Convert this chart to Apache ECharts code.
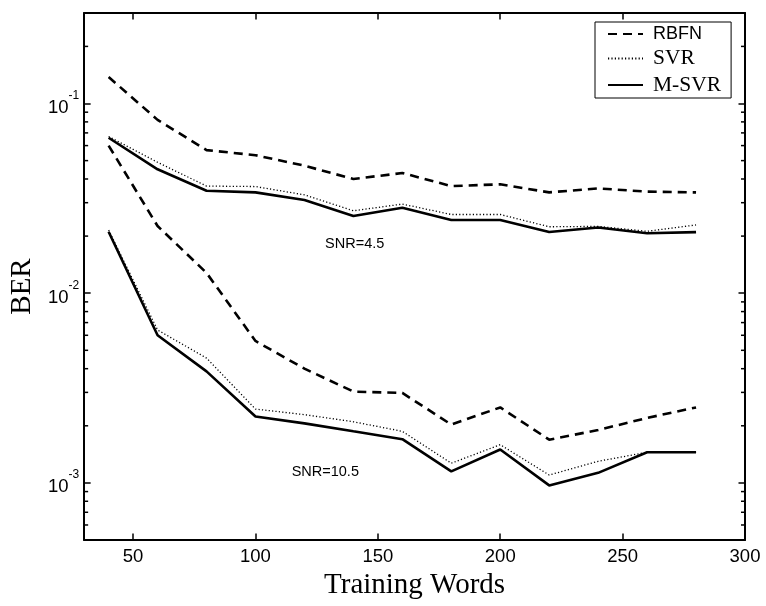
<!DOCTYPE html>
<html><head><meta charset="utf-8">
<script src="https://cdn.jsdelivr.net/npm/echarts@6/dist/echarts.min.js"></script>
<style>html,body{margin:0;padding:0;background:#fff}#c{width:766px;height:606px}</style>
</head><body><div id="c"></div>
<script>
// ---- data ----
const words = [40, 60, 80, 100, 120, 140, 160, 180, 200, 220, 240, 260, 280];
const rbfnSnr45 = [0.138, 0.082, 0.0568, 0.0534, 0.047, 0.040, 0.043, 0.0367, 0.0375, 0.034, 0.0357, 0.0343, 0.034];
const svrSnr45  = [0.067, 0.049, 0.0367, 0.0365, 0.033, 0.0272, 0.0295, 0.026, 0.026, 0.0224, 0.0225, 0.0212, 0.0229];
const msvrSnr45 = [0.066, 0.045, 0.0347, 0.034, 0.031, 0.0255, 0.0282, 0.0243, 0.0243, 0.021, 0.0222, 0.0207, 0.021];
const rbfnSnr105 = [0.060, 0.0226, 0.0128, 0.0056, 0.0040, 0.00303, 0.00298, 0.00203, 0.0025, 0.00169, 0.0019, 0.0022, 0.0025];
const svrSnr105  = [0.0215, 0.0064, 0.00455, 0.00245, 0.00229, 0.0021, 0.00187, 0.00127, 0.00159, 0.0011, 0.0013, 0.00145, 0.00145];
const msvrSnr105 = [0.0211, 0.0060, 0.00387, 0.00224, 0.00206, 0.00187, 0.0017, 0.00115, 0.0015, 0.00097, 0.00113, 0.00145, 0.00145];
const seriesNames = ['RBFN', 'SVR', 'M-SVR'];
const xTickLabels = [50, 100, 150, 200, 250, 300];
const yMinorTicks = [6e-4, 7e-4, 8e-4, 9e-4,
  2e-3, 3e-3, 4e-3, 5e-3, 6e-3, 7e-3, 8e-3, 9e-3,
  2e-2, 3e-2, 4e-2, 5e-2, 6e-2, 7e-2, 8e-2, 9e-2, 0.2];
const xMin = 30, xMax = 300, yMin = 5e-4, yMax = 0.3;
const annotations = ['SNR=4.5', 'SNR=10.5'];

// ---- chart ----
const chart = echarts.init(document.getElementById('c'), null, {renderer: 'canvas'});
const pair = (ys) => words.map((w, i) => [w, ys[i]]);
const sans = 'Liberation Sans, Arial, Helvetica, sans-serif';
const serif = 'Liberation Serif, Times New Roman, serif';
const styles = {
  'RBFN': {type: [9, 6], width: 2.6},
  'SVR': {type: [1.2, 2.2], width: 1.3},
  'M-SVR': {type: 'solid', width: 2.6}
};
function lineSeries(name, ys) {
  return {
    name, type: 'line', data: pair(ys), symbol: 'none', showSymbol: false,
    lineStyle: {color: '#000', width: styles[name].width, type: styles[name].type},
    itemStyle: {color: '#000'}, animation: false, silent: true
  };
}
const axisCommonY = {
  type: 'log', logBase: 10, min: yMin, max: yMax,
  axisLine: {show: true, lineStyle: {color: '#000', width: 2}},
  axisTick: {show: true, inside: true, length: 6.5, lineStyle: {color: '#000', width: 1.5}},
  splitLine: {show: false}
};
const axisCommonX = {
  type: 'value', min: xMin, max: xMax, splitNumber: 5,
  axisLine: {show: true, onZero: false, lineStyle: {color: '#000', width: 2}},
  axisTick: {show: true, inside: true, length: 6.5, lineStyle: {color: '#000', width: 1.5}},
  splitLine: {show: false}
};
const option = {
  backgroundColor: '#fff',
  animation: false,
  grid: {left: 78, right: 21, top: 13, bottom: 66, containLabel: false},
  xAxis: [
    Object.assign({}, axisCommonX, {
      position: 'bottom',
      name: 'Training Words', nameLocation: 'middle', nameGap: 27,
      nameTextStyle: {fontFamily: serif, fontSize: 29, color: '#000'},
      axisLabel: {
        margin: 7, color: '#000', fontFamily: sans, fontSize: 18.5,
        formatter: v => xTickLabels.includes(v) ? String(v) : ''
      }
    }),
    Object.assign({}, axisCommonX, {position: 'top', axisLabel: {show: false}})
  ],
  yAxis: [
    Object.assign({}, axisCommonY, {
      position: 'left',
      name: 'BER', nameLocation: 'middle', nameGap: 41, nameRotate: 90,
      nameTextStyle: {fontFamily: serif, fontSize: 29, color: '#000', padding: [0, 20, 0, 0]},
      axisLabel: {
        margin: 5, color: '#000',
        formatter: v => {
          const e = Math.log10(v), r = Math.round(e);
          if (Math.abs(e - r) > 1e-6) return '';
          return '{b|10}{s|' + (r < 0 ? '-' + (-r) : r) + '}';
        },
        rich: {
          b: {fontFamily: sans, fontSize: 18.5, color: '#000', padding: [9, 0, 0, 0], verticalAlign: 'bottom'},
          s: {fontFamily: sans, fontSize: 12, color: '#000', verticalAlign: 'top'}
        }
      }
    }),
    Object.assign({}, axisCommonY, {position: 'right', axisLabel: {show: false}})
  ],
  legend: {
    data: seriesNames,
    orient: 'vertical', left: 595, top: 22,
    itemWidth: 35, itemHeight: 14, itemGap: 4.5,
    padding: [3, 10, 2, 12],
    backgroundColor: '#fff', borderColor: '#000', borderWidth: 1,
    selectedMode: false,
    itemStyle: {opacity: 0},
    formatter: n => n === 'RBFN' ? '{sa|' + n + '}' : '{se|' + n + '}',
    textStyle: {
      color: '#000',
      rich: {
        sa: {fontFamily: sans, fontSize: 18, lineHeight: 22, color: '#000', padding: [0, 0, 0, 5]},
        se: {fontFamily: serif, fontSize: 21.5, lineHeight: 22, color: '#000', padding: [0, 0, 0, 5]}
      }
    }
  },
  graphic: [
    {type: 'text', style: {text: annotations[0], x: 354.7, y: 244, align: 'center', verticalAlign: 'middle', font: '14.5px ' + sans, fill: '#000'}},
    {type: 'text', style: {text: annotations[1], x: 325.3, y: 472.3, align: 'center', verticalAlign: 'middle', font: '14.5px ' + sans, fill: '#000'}}
  ],
  series: [
    lineSeries('RBFN', rbfnSnr45),
    lineSeries('SVR', svrSnr45),
    lineSeries('M-SVR', msvrSnr45),
    lineSeries('RBFN', rbfnSnr105),
    lineSeries('SVR', svrSnr105),
    lineSeries('M-SVR', msvrSnr105),
    {
      name: 'minorTicks', type: 'custom', silent: true, z: 5,
      data: yMinorTicks.map(v => [xMin, v]),
      renderItem: (params, api) => {
        const v = api.value(1);
        const pL = api.coord([xMin, v]);
        const pR = api.coord([xMax, v]);
        const st = {stroke: '#000', lineWidth: 1.5};
        return {type: 'group', children: [
          {type: 'line', shape: {x1: pL[0], y1: pL[1], x2: pL[0] + 4, y2: pL[1]}, style: st},
          {type: 'line', shape: {x1: pR[0] - 4, y1: pR[1], x2: pR[0], y2: pR[1]}, style: st}
        ]};
      }
    }
  ]
};
chart.setOption(option);
</script></body></html>
